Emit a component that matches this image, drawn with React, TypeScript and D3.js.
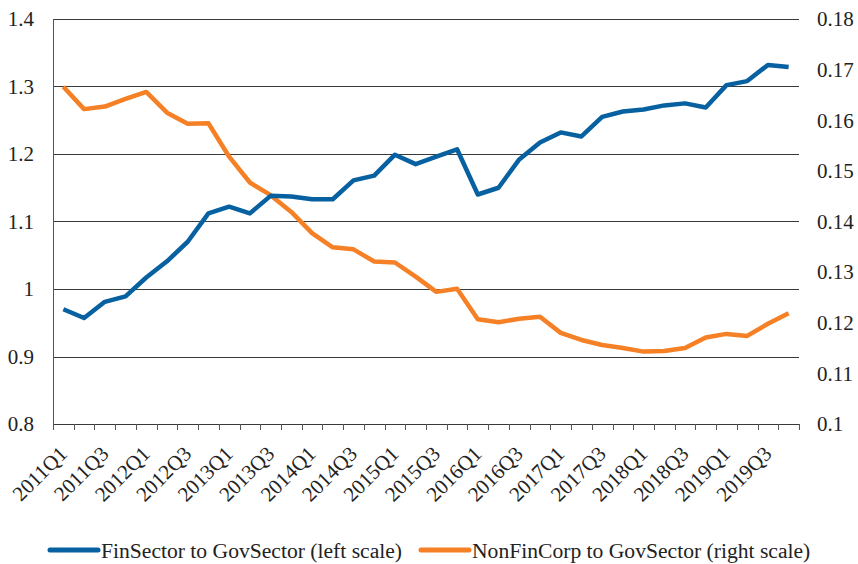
import React from 'react';
import * as d3 from 'd3';

const quarters = [
  '2011Q1','2011Q2','2011Q3','2011Q4','2012Q1','2012Q2','2012Q3','2012Q4',
  '2013Q1','2013Q2','2013Q3','2013Q4','2014Q1','2014Q2','2014Q3','2014Q4',
  '2015Q1','2015Q2','2015Q3','2015Q4','2016Q1','2016Q2','2016Q3','2016Q4',
  '2017Q1','2017Q2','2017Q3','2017Q4','2018Q1','2018Q2','2018Q3','2018Q4',
  '2019Q1','2019Q2','2019Q3','2019Q4',
];

const finSector = [
  0.970, 0.957, 0.981, 0.989, 1.017, 1.041, 1.070, 1.112,
  1.122, 1.112, 1.138, 1.137, 1.133, 1.133, 1.161, 1.168,
  1.199, 1.185, 1.196, 1.207, 1.140, 1.150, 1.192, 1.217,
  1.232, 1.226, 1.255, 1.263, 1.266, 1.272, 1.275, 1.269,
  1.302, 1.308, 1.332, 1.329,
];

const nonFinCorp = [
  0.1666, 0.1622, 0.1627, 0.1642, 0.1656, 0.1615, 0.1593, 0.1594,
  0.1528, 0.1477, 0.1452, 0.1419, 0.1377, 0.1349, 0.1345, 0.1321,
  0.1319, 0.1291, 0.1261, 0.1267, 0.1207, 0.1201, 0.1208, 0.1212,
  0.1180, 0.1166, 0.1156, 0.1150, 0.1143, 0.1144, 0.1150, 0.1171,
  0.1178, 0.1174, 0.1198, 0.1219,
];

const leftTicks = [0.8, 0.9, 1.0, 1.1, 1.2, 1.3, 1.4];
const rightTicks = [0.1, 0.11, 0.12, 0.13, 0.14, 0.15, 0.16, 0.17, 0.18];

const seriesNames = ['FinSector to GovSector (left scale)', 'NonFinCorp to GovSector (right scale)'];

const BLUE = '#0761a0';
const ORANGE = '#f58025';
const TXT = { fontFamily: 'Liberation Serif' };

export default function App() {
  const W = 858, H = 564;
  const left = 53, right = 799, top = 19, bottom = 424;

  const x = d3.scaleBand<string>().domain(quarters).range([left, right]);
  const bw = x.bandwidth();
  const cx = (q: string) => (x(q) as number) + bw / 2;
  const yL = d3.scaleLinear().domain([0.8, 1.4]).range([bottom, top]);
  const yR = d3.scaleLinear().domain([0.1, 0.18]).range([bottom, top]);

  const lineL = d3.line<number>().x((_, i) => cx(quarters[i])).y(d => yL(d));
  const lineR = d3.line<number>().x((_, i) => cx(quarters[i])).y(d => yR(d));

  const boundaries = [...quarters.map(q => x(q) as number), right];

  return (
    <svg width={W} height={H} style={{ position: 'absolute', left: 0, top: 0, background: '#fff' }}>
      <rect x={0} y={0} width={W} height={H} fill="#fff" />
      {leftTicks.map(t => (
        <line key={'g' + t} x1={left} x2={right} y1={Math.round(yL(t)) + 0.5} y2={Math.round(yL(t)) + 0.5} stroke="#3a3a3a" strokeWidth={1} />
      ))}
      <line x1={left + 0.5} x2={left + 0.5} y1={top} y2={bottom} stroke="#555" strokeWidth={1} />
      {boundaries.map((b, i) => (
        <line key={'t' + i} x1={Math.round(b) + 0.5} x2={Math.round(b) + 0.5} y1={bottom} y2={bottom + 6} stroke="#555" strokeWidth={1} />
      ))}
      {leftTicks.map(t => (
        <text key={'l' + t} style={TXT} x={34} y={yL(t)} dy="0.35em" textAnchor="end" fontSize={21} fill="#222">{d3.format('~g')(t)}</text>
      ))}
      {rightTicks.map(t => (
        <text key={'r' + t} style={TXT} x={817} y={yR(t)} dy="0.35em" textAnchor="start" fontSize={21} fill="#222">{d3.format('~g')(t)}</text>
      ))}
      {quarters.map((q, i) => i % 2 === 0 ? (
        <text key={'x' + q} style={TXT} transform={`translate(${cx(q) + 5},${bottom + 31}) rotate(-45)`} textAnchor="end" fontSize={21} fill="#222">{q}</text>
      ) : null)}
      <path d={lineR(nonFinCorp) || ''} fill="none" stroke={ORANGE} strokeWidth={4.5} strokeLinejoin="round" />
      <path d={lineL(finSector) || ''} fill="none" stroke={BLUE} strokeWidth={4.5} strokeLinejoin="round" />
      <g>
        <line x1={50} x2={98} y1={550} y2={550} stroke={BLUE} strokeWidth={5} strokeLinecap="round" />
        <text style={TXT} x={101} y={550} dy="0.35em" fontSize={21.6} fill="#222">{seriesNames[0]}</text>
        <line x1={421} x2={469} y1={550} y2={550} stroke={ORANGE} strokeWidth={5} strokeLinecap="round" />
        <text style={TXT} x={472} y={550} dy="0.35em" fontSize={21.6} fill="#222">{seriesNames[1]}</text>
      </g>
    </svg>
  );
}
